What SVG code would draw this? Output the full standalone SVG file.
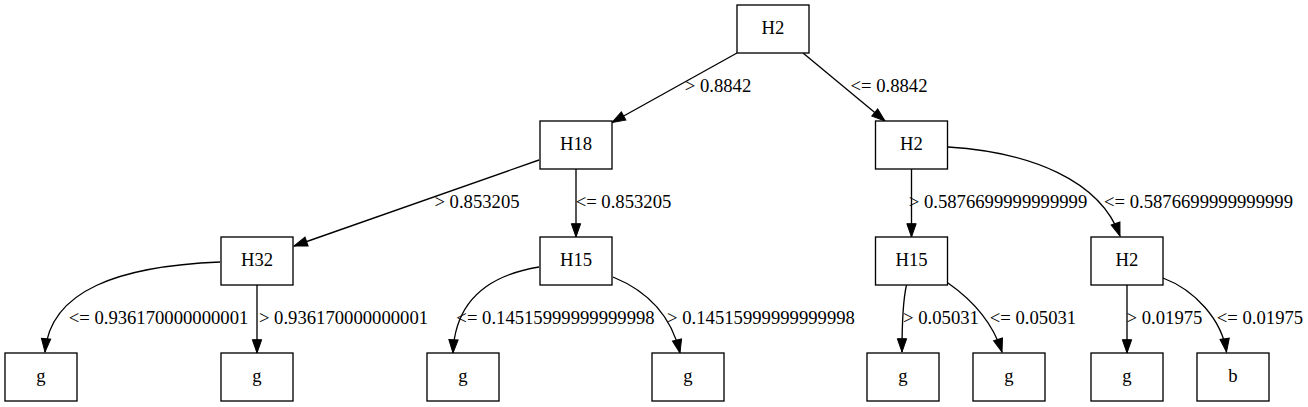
<svg xmlns="http://www.w3.org/2000/svg" width="1308" height="407" viewBox="0 0 1308 407">
<defs>
<style>
.n rect{fill:#fff;stroke:#000;stroke-width:1.33}
text{font-family:"Liberation Serif","Times New Roman",serif;font-size:18.67px;fill:#000;text-anchor:middle}
.e path{fill:none;stroke:#000;stroke-width:1.33;marker-end:url(#ah)}
</style>
<marker id="ah" markerUnits="userSpaceOnUse" markerWidth="14" markerHeight="10" refX="13.3" refY="4.67" orient="auto" viewBox="0 0 14 10" overflow="visible">
<path d="M0,0 L13.3,4.67 L0,9.33 z" fill="#000" stroke="#000" stroke-width="1"/>
</marker>
</defs>
<rect width="1308" height="407" fill="#fff"/>
<g id="edges" class="e">
<path d="M737,53 L612,122.5"/>
<path d="M803,53 L885,121"/>
<path d="M539,160 L294,246"/>
<path d="M576,169 L576,237"/>
<path d="M911.5,169 L911.5,237"/>
<path d="M948,147 C1030,152 1100,180 1120,236"/>
<path d="M220,262 C120,266 50,290 45,352"/>
<path d="M257,285 L257,353"/>
<path d="M539,267 C490,275 455,300 453,353"/>
<path d="M613,277 C640,288 670,310 680,353"/>
<path d="M906.5,285 C903,300 902,320 902,352"/>
<path d="M948,283 C968,297 992,320 1002,352"/>
<path d="M1127,285 L1127,353"/>
<path d="M1163,278 C1195,290 1222,320 1226.5,352"/>
</g>
<g id="edge-labels">
<text x="718" y="92">&gt; 0.8842</text>
<text x="889" y="92">&lt;= 0.8842</text>
<text x="477" y="207.5">&gt; 0.853205</text>
<text x="623.5" y="207.5">&lt;= 0.853205</text>
<text x="998" y="207.5">&gt; 0.5876699999999999</text>
<text x="1198.5" y="207.5">&lt;= 0.5876699999999999</text>
<text x="158.5" y="323.5">&lt;= 0.936170000000001</text>
<text x="343.5" y="323.5">&gt; 0.936170000000001</text>
<text x="555.5" y="323.5">&lt;= 0.14515999999999998</text>
<text x="761" y="323.5">&gt; 0.14515999999999998</text>
<text x="941" y="323.5">&gt; 0.05031</text>
<text x="1033" y="323.5">&lt;= 0.05031</text>
<text x="1164.5" y="323.5">&gt; 0.01975</text>
<text x="1260" y="323.5">&lt;= 0.01975</text>
</g>
<g id="n0" class="n"><rect x="737" y="5" width="72" height="48"/><text x="773" y="34">H2</text></g>
<g id="n1" class="n"><rect x="540" y="121" width="72" height="48"/><text x="576" y="150">H18</text></g>
<g id="n2" class="n"><rect x="875.5" y="121" width="72" height="48"/><text x="911.5" y="150">H2</text></g>
<g id="n3" class="n"><rect x="221" y="237" width="72" height="48"/><text x="257" y="266">H32</text></g>
<g id="n4" class="n"><rect x="540" y="237" width="72" height="48"/><text x="576" y="266">H15</text></g>
<g id="n5" class="n"><rect x="875.5" y="237" width="72" height="48"/><text x="911.5" y="266">H15</text></g>
<g id="n6" class="n"><rect x="1091" y="237" width="72" height="48"/><text x="1127" y="266">H2</text></g>
<g id="n7" class="n"><rect x="5" y="353" width="72" height="48"/><text x="41" y="382">g</text></g>
<g id="n8" class="n"><rect x="221" y="353" width="72" height="48"/><text x="257" y="382">g</text></g>
<g id="n9" class="n"><rect x="427" y="353" width="72" height="48"/><text x="463" y="382">g</text></g>
<g id="n10" class="n"><rect x="652" y="353" width="72" height="48"/><text x="688" y="382">g</text></g>
<g id="n11" class="n"><rect x="867" y="353" width="72" height="48"/><text x="903" y="382">g</text></g>
<g id="n12" class="n"><rect x="973" y="353" width="72" height="48"/><text x="1009" y="382">g</text></g>
<g id="n13" class="n"><rect x="1091" y="353" width="72" height="48"/><text x="1127" y="382">g</text></g>
<g id="n14" class="n"><rect x="1197" y="353" width="72" height="48"/><text x="1233" y="382">b</text></g>
</svg>
